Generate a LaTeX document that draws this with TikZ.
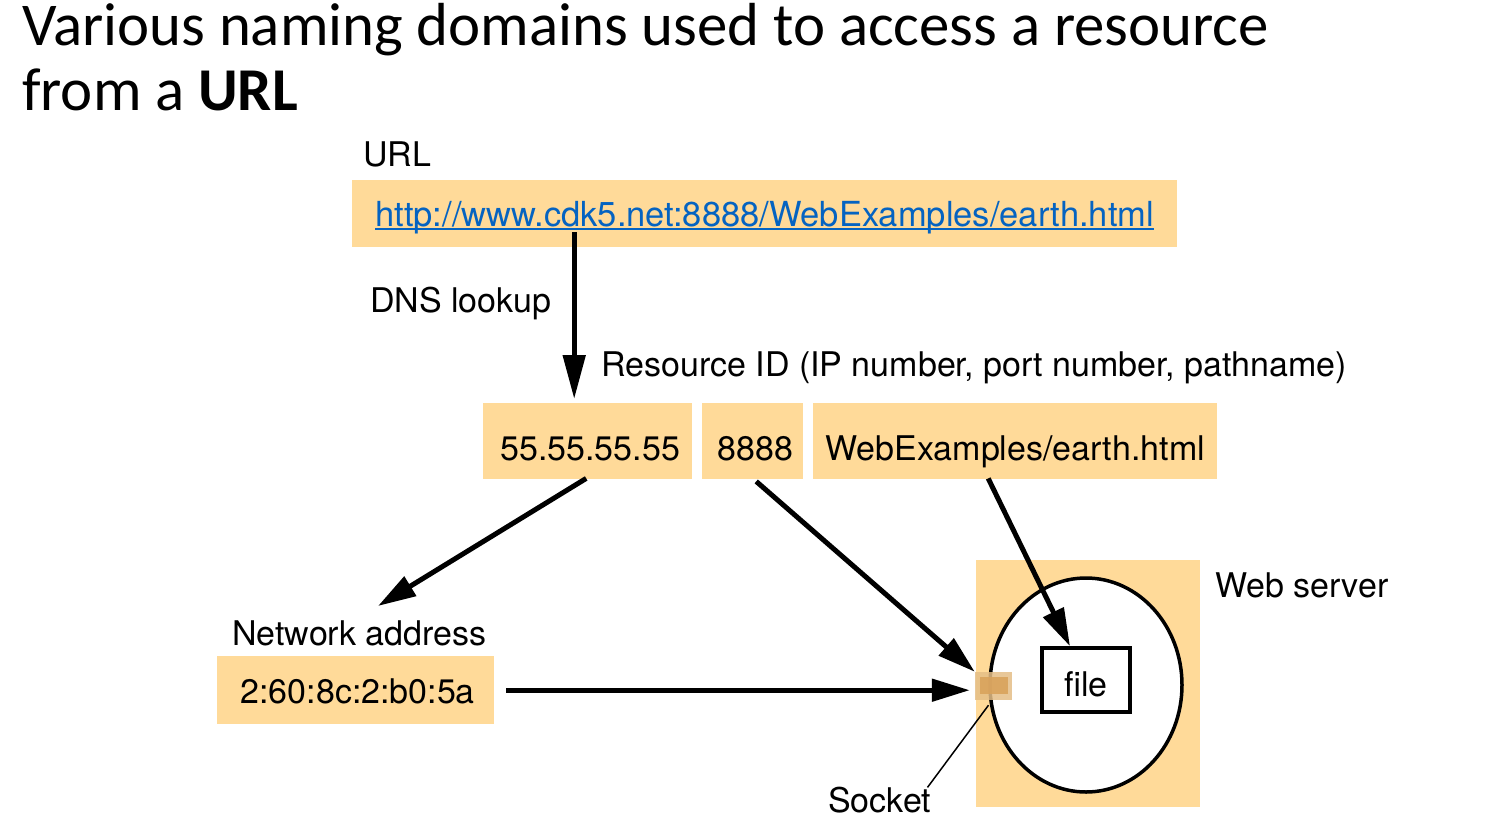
\documentclass[tikz,border=0pt]{standalone}
\usepackage{fontspec}
\setmainfont{TeX Gyre Heros}
\newfontfamily\titlefont{Carlito}
\usetikzlibrary{arrows.meta,calc,shapes.geometric}
\definecolor{boxfill}{HTML}{FFDA99}
\definecolor{linkblue}{HTML}{0563C1}
\definecolor{sockin}{HTML}{D9A35C}
\definecolor{sockout}{HTML}{E5BE86}
% hyperlink-style text with a thin rule just below the baseline
\newcommand\linktext[1]{\setbox0\hbox{#1}\rlap{\rule[-4pt]{\wd0}{2.2pt}}\box0}
\begin{document}
\begin{tikzpicture}[x=1pt,y=-1pt,
  every node/.style={inner sep=0pt},
  diagfont/.style={font=\fontsize{34}{40}\selectfont},
  lbl/.style={diagfont, anchor=base west},
  ttl/.style={anchor=base west, font=\titlefont\fontsize{60.8}{65}\selectfont},
  band/.style={diagfont, fill=boxfill, draw=none, anchor=north west, align=center},
  arr/.style={line width=5pt, -{Triangle[length=38pt,width=22pt]}},
  longarr/.style={line width=5pt, -{Triangle[length=44pt,width=22pt]}},
]
\useasboundingbox (0,0) rectangle (1496,836);

% title
\node[ttl] (title1) at (22,45) {Various naming domains used to access a resource};
\node[ttl] (title2) at (22,110) {from a {\bfseries URL}};

% URL
\node[lbl] (urllbl) at (363,166) {URL};
\node[band, minimum width=825pt, text height=46pt, text depth=21pt, font=\fontsize{34.5}{40}\selectfont] (url) at (352,180)
  {\color{linkblue}\linktext{http://www.cdk5.net:8888/WebExamples/earth.html}};

\node[lbl] (dnslbl) at (370,312) {DNS lookup};
\node[lbl] (ridlbl) at (601,376) {Resource ID (IP number, port number, pathname)};

% resource ID parts
\node[band, minimum width=209pt, text height=57pt, text depth=19pt] (ip) at (483,403) {\hspace*{5pt}55.55.55.55};
\node[band, minimum width=101pt, text height=57pt, text depth=19pt] (port) at (702,403) {\hspace*{5pt}8888};
\node[band, minimum width=404pt, text height=57pt, text depth=19pt] (path) at (813,403) {WebExamples/earth.html};

% network address
\node[lbl] (netlbl) at (232,645) {Network address};
\node[band, minimum width=277pt, text height=47pt, text depth=21pt] (mac) at (217,656) {\hspace*{4pt}2:60:8c:2:b0:5a};
\coordinate (nettip) at (378,606);

% web server
\node[fill=boxfill, anchor=north west, minimum width=224pt, minimum height=247pt] (web) at (976,560) {};
\node[lbl] (weblbl) at (1215,597) {Web server};
\node[draw, ellipse, line width=3.5pt, fill=white, minimum width=192pt, minimum height=214pt] (proc) at (1086,685) {};
\node[diagfont, draw, line width=3.5pt, fill=white, minimum width=88pt, minimum height=64pt, text height=32pt, text depth=0pt] (file) at (1086,680) {file};

% socket
\node[fill=sockout, opacity=0.85, minimum width=37pt, minimum height=28pt] (socket) at (993.5,686) {};
\node[fill=sockin, opacity=0.9, minimum width=28pt, minimum height=17pt] (sockcore) at (994,685.5) {};
\node[lbl] (socklbl) at (828,812) {Socket};
\draw[line width=1.5pt] ([xshift=-5pt,yshift=-5pt]socket.south) -- ([xshift=-4pt,yshift=-1pt]socklbl.north east);

% connectors
\draw[longarr] ([xshift=-190.5pt,yshift=15pt]url.south) -- ([xshift=-13.5pt,yshift=4pt]ip.north);
\draw[arr] ([xshift=-1.5pt,yshift=1pt]ip.south) -- (nettip);
\draw[arr] ([xshift=3.5pt,yshift=-2pt]port.south) -- (socket.north west);
\draw[arr] ([xshift=-27pt,yshift=1pt]path.south) -- ([xshift=-16pt]file.north);
\draw[arr] ([xshift=12pt]mac.east) -- ([xshift=-5pt]mac.east -| socket.west);
\end{tikzpicture}
\end{document}
